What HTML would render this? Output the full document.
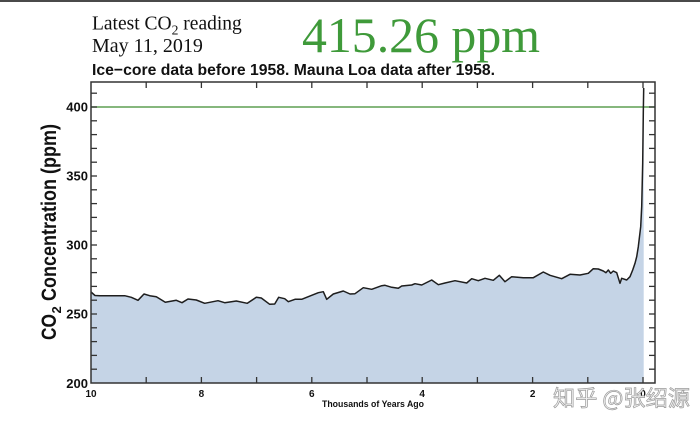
<!DOCTYPE html>
<html><head><meta charset="utf-8"><style>
html,body{margin:0;padding:0;background:#fff;}
svg{display:block;}
</style></head><body>
<svg width="700" height="422" viewBox="0 0 700 422" xmlns="http://www.w3.org/2000/svg">
<rect x="0" y="0" width="700" height="422" fill="#ffffff"/>
<rect x="0" y="0" width="700" height="2" fill="#4a4a4a"/>

<!-- Header text -->
<g font-family="'Liberation Serif', serif" fill="#111">
  <text x="92" y="29.5" font-size="20" transform="translate(92,0) scale(0.975,1) translate(-92,0)">Latest CO<tspan font-size="14" dy="5">2</tspan><tspan dy="-5"> reading</tspan></text>
  <text x="92" y="52" font-size="20">May 11, 2019</text>
</g>
<text x="302" y="52" font-family="'Liberation Serif', serif" font-size="50" fill="#3f9a3a" textLength="238" lengthAdjust="spacingAndGlyphs">415.26 ppm</text>
<text x="92" y="75" font-family="'Liberation Sans', sans-serif" font-weight="bold" font-size="16" fill="#111" textLength="403" lengthAdjust="spacingAndGlyphs">Ice−core data before 1958. Mauna Loa data after 1958.</text>

<!-- Fill area -->
<polygon fill="#c5d4e6" stroke="none" points="91,383 91,292 95,295.5 100,295.7 124.7,295.7 131.3,297.3 138,300.3 144,294 149.7,295.7 156.3,296.7 165.3,302.3 176.3,300.3 182,302.7 188,299 196.3,300 204.7,303.3 218,300.7 224.7,302.7 236.3,301 247.3,303.3 256.3,297.3 261.3,298 269.7,304.3 274.7,304 278.7,297.3 284.7,298.7 288.3,301.7 295,299.3 301.7,299.3 318.3,292.7 323.3,291.7 326.7,299.3 333.3,294 343.3,291 350,294 355,293.7 363.3,287.7 371.7,289.3 381.7,285.7 385,285.3 391.7,287.3 398.3,288.3 401.7,286 411.7,285 415,283.7 421.7,285 431.7,280 438.3,284.7 445,283 455,280.7 466.7,283 471.7,278.7 478.3,280.7 485,278.3 493.3,280.3 499.3,275.3 505,281.7 511.7,276.7 523.3,277.7 533.3,277.7 543.3,272 550,275.3 561.7,278.7 570,274.3 580,275 588.3,273.3 593.3,268.7 598.3,269 603.3,271 606,272.7 608.3,270 610.7,273.3 613.3,271 616.7,272.7 620,283.3 621.7,278.3 626.7,280 630,276.7 632.7,270 635,263.3 636.7,256.7 638.3,246.7 640.7,226.7 641.7,206.7 642.7,163 643.3,113 643.7,88 643.7,383"/>

<!-- 400 ppm line -->
<line x1="91" y1="107" x2="655" y2="107" stroke="#5f9f52" stroke-width="1.6"/>

<!-- Curve -->
<polyline fill="none" stroke="#1e1e1e" stroke-width="1.5" stroke-linejoin="round" points="91,292 95,295.5 100,295.7 124.7,295.7 131.3,297.3 138,300.3 144,294 149.7,295.7 156.3,296.7 165.3,302.3 176.3,300.3 182,302.7 188,299 196.3,300 204.7,303.3 218,300.7 224.7,302.7 236.3,301 247.3,303.3 256.3,297.3 261.3,298 269.7,304.3 274.7,304 278.7,297.3 284.7,298.7 288.3,301.7 295,299.3 301.7,299.3 318.3,292.7 323.3,291.7 326.7,299.3 333.3,294 343.3,291 350,294 355,293.7 363.3,287.7 371.7,289.3 381.7,285.7 385,285.3 391.7,287.3 398.3,288.3 401.7,286 411.7,285 415,283.7 421.7,285 431.7,280 438.3,284.7 445,283 455,280.7 466.7,283 471.7,278.7 478.3,280.7 485,278.3 493.3,280.3 499.3,275.3 505,281.7 511.7,276.7 523.3,277.7 533.3,277.7 543.3,272 550,275.3 561.7,278.7 570,274.3 580,275 588.3,273.3 593.3,268.7 598.3,269 603.3,271 606,272.7 608.3,270 610.7,273.3 613.3,271 616.7,272.7 620,283.3 621.7,278.3 626.7,280 630,276.7 632.7,270 635,263.3 636.7,256.7 638.3,246.7 640.7,226.7 641.7,206.7 642.7,163 643.3,113 643.7,88"/>

<!-- Frame -->
<rect x="91" y="82" width="564" height="301" fill="none" stroke="#333" stroke-width="1.5"/>

<!-- Ticks -->
<g stroke="#333" stroke-width="1.3">
  <!-- top & bottom ticks -->
  <line x1="146.2" y1="82" x2="146.2" y2="88"/><line x1="146.2" y1="383" x2="146.2" y2="377"/>
  <line x1="201.4" y1="82" x2="201.4" y2="88"/><line x1="201.4" y1="383" x2="201.4" y2="377"/>
  <line x1="256.6" y1="82" x2="256.6" y2="88"/><line x1="256.6" y1="383" x2="256.6" y2="377"/>
  <line x1="311.8" y1="82" x2="311.8" y2="88"/><line x1="311.8" y1="383" x2="311.8" y2="377"/>
  <line x1="367" y1="82" x2="367" y2="88"/><line x1="367" y1="383" x2="367" y2="377"/>
  <line x1="422.2" y1="82" x2="422.2" y2="88"/><line x1="422.2" y1="383" x2="422.2" y2="377"/>
  <line x1="477.4" y1="82" x2="477.4" y2="88"/><line x1="477.4" y1="383" x2="477.4" y2="377"/>
  <line x1="532.6" y1="82" x2="532.6" y2="88"/><line x1="532.6" y1="383" x2="532.6" y2="377"/>
  <line x1="587.8" y1="82" x2="587.8" y2="88"/><line x1="587.8" y1="383" x2="587.8" y2="377"/>
  <line x1="643" y1="82" x2="643" y2="88"/><line x1="643" y1="383" x2="643" y2="377"/>
  <!-- left & right ticks every 10 ppm -->
  <line x1="91" y1="369.2" x2="97" y2="369.2"/><line x1="655" y1="369.2" x2="649" y2="369.2"/>
  <line x1="91" y1="355.4" x2="97" y2="355.4"/><line x1="655" y1="355.4" x2="649" y2="355.4"/>
  <line x1="91" y1="341.6" x2="97" y2="341.6"/><line x1="655" y1="341.6" x2="649" y2="341.6"/>
  <line x1="91" y1="327.8" x2="97" y2="327.8"/><line x1="655" y1="327.8" x2="649" y2="327.8"/>
  <line x1="91" y1="314" x2="97" y2="314"/><line x1="655" y1="314" x2="649" y2="314"/>
  <line x1="91" y1="300.2" x2="97" y2="300.2"/><line x1="655" y1="300.2" x2="649" y2="300.2"/>
  <line x1="91" y1="286.4" x2="97" y2="286.4"/><line x1="655" y1="286.4" x2="649" y2="286.4"/>
  <line x1="91" y1="272.6" x2="97" y2="272.6"/><line x1="655" y1="272.6" x2="649" y2="272.6"/>
  <line x1="91" y1="258.8" x2="97" y2="258.8"/><line x1="655" y1="258.8" x2="649" y2="258.8"/>
  <line x1="91" y1="245" x2="97" y2="245"/><line x1="655" y1="245" x2="649" y2="245"/>
  <line x1="91" y1="231.2" x2="97" y2="231.2"/><line x1="655" y1="231.2" x2="649" y2="231.2"/>
  <line x1="91" y1="217.4" x2="97" y2="217.4"/><line x1="655" y1="217.4" x2="649" y2="217.4"/>
  <line x1="91" y1="203.6" x2="97" y2="203.6"/><line x1="655" y1="203.6" x2="649" y2="203.6"/>
  <line x1="91" y1="189.8" x2="97" y2="189.8"/><line x1="655" y1="189.8" x2="649" y2="189.8"/>
  <line x1="91" y1="176" x2="97" y2="176"/><line x1="655" y1="176" x2="649" y2="176"/>
  <line x1="91" y1="162.2" x2="97" y2="162.2"/><line x1="655" y1="162.2" x2="649" y2="162.2"/>
  <line x1="91" y1="148.4" x2="97" y2="148.4"/><line x1="655" y1="148.4" x2="649" y2="148.4"/>
  <line x1="91" y1="134.6" x2="97" y2="134.6"/><line x1="655" y1="134.6" x2="649" y2="134.6"/>
  <line x1="91" y1="120.8" x2="97" y2="120.8"/><line x1="655" y1="120.8" x2="649" y2="120.8"/>
  <line x1="91" y1="107" x2="97" y2="107"/><line x1="655" y1="107" x2="649" y2="107"/>
  <line x1="91" y1="93.2" x2="97" y2="93.2"/><line x1="655" y1="93.2" x2="649" y2="93.2"/>
</g>

<!-- Y tick labels -->
<g font-family="'Liberation Sans', sans-serif" font-weight="bold" font-size="13" fill="#111" text-anchor="end">
  <text x="88" y="111.5">400</text>
  <text x="88" y="180.5">350</text>
  <text x="88" y="249.5">300</text>
  <text x="88" y="318.5">250</text>
  <text x="88" y="388">200</text>
</g>

<!-- X tick labels -->
<g font-family="'Liberation Sans', sans-serif" font-weight="bold" font-size="10" fill="#111" text-anchor="middle">
  <text x="91" y="397">10</text>
  <text x="201.4" y="397">8</text>
  <text x="311.8" y="397">6</text>
  <text x="422.2" y="397">4</text>
  <text x="532.6" y="397">2</text>
  <text x="643" y="397">0</text>
</g>
<text x="373" y="407" font-family="'Liberation Sans', sans-serif" font-weight="bold" font-size="9" fill="#111" text-anchor="middle" textLength="102" lengthAdjust="spacingAndGlyphs">Thousands of Years Ago</text>

<!-- Y axis label -->
<g transform="translate(56,340) rotate(-90)" font-family="'Liberation Sans', sans-serif" font-weight="bold" fill="#111">
  <text x="0" y="0" font-size="21" textLength="26" lengthAdjust="spacingAndGlyphs">CO</text>
  <text x="26.5" y="5" font-size="13">2</text>
  <text x="39" y="0" font-size="21" textLength="177" lengthAdjust="spacingAndGlyphs">Concentration (ppm)</text>
</g>

<!-- Watermark -->
<text x="553" y="406" font-family="'Noto Sans CJK SC', 'WenQuanYi Zen Hei', sans-serif" font-size="22" fill="#f2f2f2" stroke="#9a9a9a" stroke-width="0.7" textLength="137" lengthAdjust="spacingAndGlyphs">知乎 @张绍源</text>
</svg>
</body></html>
